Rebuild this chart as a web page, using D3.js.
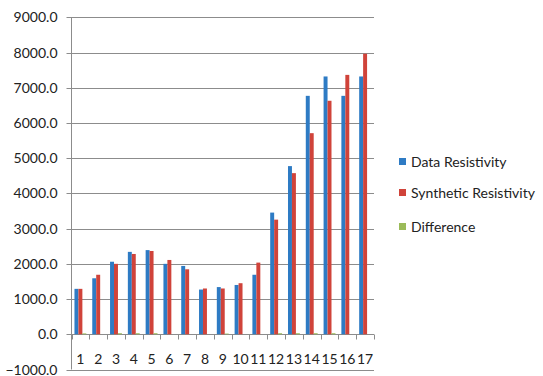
<!DOCTYPE html>
<html>
<head>
<meta charset="utf-8">
<script src="https://cdn.jsdelivr.net/npm/d3@7"></script>
<style>
  body { margin: 0; background: #fff; }
  svg text { font-family: Lato, "Open Sans", sans-serif; fill: #222; }
</style>
</head>
<body>
<svg id="chart" width="543" height="376"></svg>
<script>
// chart data
var categories = ["1","2","3","4","5","6","7","8","9","10","11","12","13","14","15","16","17"];
var seriesNames = ["Data Resistivity", "Synthetic Resistivity", "Difference"];
var dataResistivity = [1290, 1590, 2060, 2340, 2390, 2000, 1940, 1270, 1340, 1400, 1690, 3455, 4775, 6770, 7320, 6770, 7320];
var syntheticResistivity = [1290, 1690, 2000, 2280, 2365, 2110, 1845, 1300, 1300, 1450, 2035, 3255, 4575, 5710, 6630, 7365, 7965];
var difference = [25, 0, 30, 30, 30, 0, 0, 0, 20, 0, 0, 30, 30, 30, 30, 0, 0];
var yTicks = [-1000, 0, 1000, 2000, 3000, 4000, 5000, 6000, 7000, 8000, 9000];

var colours = ["#2e7bc4", "#d0433a", "#9bbb59"];
var seriesValues = [dataResistivity, syntheticResistivity, difference];

// plot area
var plotLeft = 71.5, plotRight = 374, plotTop = 17.3, plotBottom = 369.5;

var svg = d3.select("#chart");

var y = d3.scaleLinear()
  .domain([-1000, 9000])
  .range([plotBottom, plotTop]);

var x = d3.scaleBand()
  .domain(categories)
  .range([plotLeft, plotRight])
  .paddingInner(0)
  .paddingOuter(0);

// bars inside each category (Excel style gap width 150%)
var xInner = d3.scaleBand()
  .domain(d3.range(seriesNames.length))
  .range([0, x.bandwidth()])
  .paddingOuter(0.75)
  .paddingInner(0);

// gridlines
svg.append("g")
  .selectAll("line")
  .data(yTicks)
  .enter().append("line")
  .attr("x1", plotLeft - 5)
  .attr("x2", plotRight)
  .attr("y1", function (d) { return Math.round(y(d)) + 0.5; })
  .attr("y2", function (d) { return Math.round(y(d)) + 0.5; })
  .attr("stroke", "#8c8c8c")
  .attr("stroke-width", 1);

// y labels
svg.append("g")
  .selectAll("text")
  .data(yTicks)
  .enter().append("text")
  .attr("x", 57.5)
  .attr("y", function (d) { return y(d); })
  .attr("dy", "0.36em")
  .attr("text-anchor", "end")
  .style("font-size", "14px")
  .text(function (d) { return d3.format(".1f")(d); });

// y axis line
svg.append("line")
  .attr("x1", plotLeft).attr("x2", plotLeft)
  .attr("y1", plotTop).attr("y2", plotBottom)
  .attr("stroke", "#8c8c8c");

// bars
var groups = svg.append("g")
  .selectAll("g")
  .data(categories)
  .enter().append("g")
  .attr("transform", function (d) { return "translate(" + x(d) + ",0)"; });

groups.selectAll("rect")
  .data(function (d, i) {
    return seriesValues.map(function (s, k) { return { k: k, v: s[i] }; });
  })
  .enter().append("rect")
  .attr("x", function (d) { return xInner(d.k); })
  .attr("width", xInner.bandwidth())
  .attr("y", function (d) { return y(Math.max(0, d.v)); })
  .attr("height", function (d) { return Math.abs(y(d.v) - y(0)); })
  .attr("fill", function (d) { return colours[d.k]; });

// category ticks below zero line
var zeroY = Math.round(y(0)) + 0.5;
svg.append("g")
  .selectAll("line")
  .data(categories.concat(["end"]))
  .enter().append("line")
  .attr("x1", function (d, i) { return Math.round(plotLeft + i * x.bandwidth()) + 0.5; })
  .attr("x2", function (d, i) { return Math.round(plotLeft + i * x.bandwidth()) + 0.5; })
  .attr("y1", zeroY)
  .attr("y2", zeroY + 5)
  .attr("stroke", "#8c8c8c");

// category labels
svg.append("g")
  .selectAll("text")
  .data(categories)
  .enter().append("text")
  .attr("x", function (d) { return x(d) + x.bandwidth() / 2; })
  .attr("y", 364)
  .attr("text-anchor", "middle")
  .style("font-size", "14px")
  .text(function (d) { return d; });

// legend
var legend = svg.append("g")
  .selectAll("g")
  .data(seriesNames)
  .enter().append("g")
  .attr("transform", function (d, i) { return "translate(399," + [162, 193, 227][i] + ")"; });

legend.append("rect")
  .attr("x", 0).attr("y", -4)
  .attr("width", 7).attr("height", 7)
  .attr("fill", function (d, i) { return colours[i]; });

legend.append("text")
  .attr("x", 12)
  .attr("y", 0)
  .attr("dy", "0.36em")
  .style("font-size", "14px")
  .text(function (d) { return d; });
</script>
</body>
</html>
